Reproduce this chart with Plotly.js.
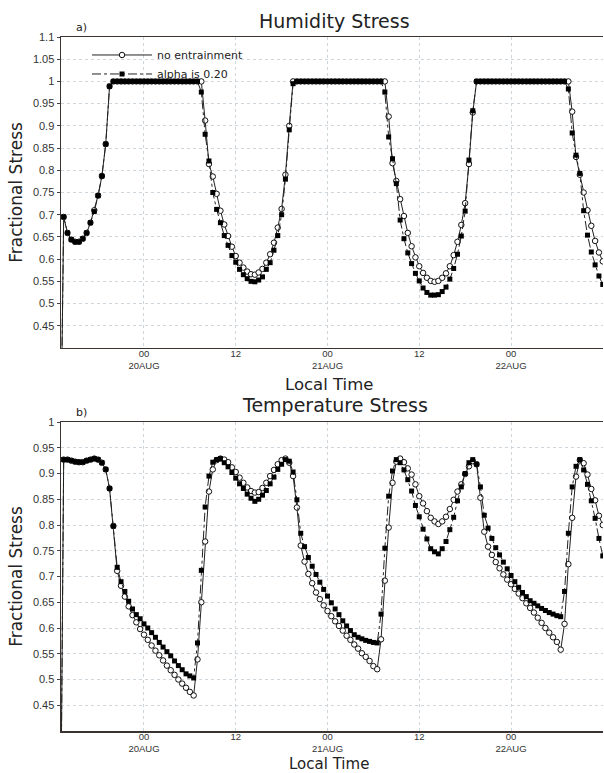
<!DOCTYPE html>
<html>
<head>
<meta charset="utf-8">
<script src="https://cdn.plot.ly/plotly-3.0.1.min.js"></script>
<style>
html,body{margin:0;padding:0;background:#fff;}
#chart{width:604px;height:773px;}
</style>
</head>
<body>
<div id="chart"></div>
<script>
// Local time in hours after 00 20AUG (half-hourly samples)
const hours = [
 -11,-10.5,-10,-9.5,-9,-8.5,-8,-7.5,-7,-6.5,-6,-5.5,-5,-4.5,
 -4,-3.5,-3,-2.5,-2,-1.5,-1,-0.5,0,0.5,1,1.5,2,2.5,3,3.5,4,4.5,5,5.5,6,6.5,7,
 7.5,8,8.5,9,9.5,10,10.5,11,11.5,12,12.5,13,13.5,14,14.5,15,15.5,16,16.5,17,17.5,18,18.5,19,19.5,
 20,20.5,21,21.5,22,22.5,23,23.5,24,24.5,25,25.5,26,26.5,27,27.5,28,28.5,29,29.5,30,30.5,31,
 31.5,32,32.5,33,33.5,34,34.5,35,35.5,36,36.5,37,37.5,38,38.5,39,39.5,40,40.5,41,41.5,42,42.5,43,
 43.5,44,44.5,45,45.5,46,46.5,47,47.5,48,48.5,49,49.5,50,50.5,51,51.5,52,52.5,53,53.5,54,54.5,55,
 55.5,56,56.5,57,57.5,58,58.5,59,59.5,60
];

// a) Humidity stress
const humidityNoEntrain = [
 0,0.695,0.659,0.644,0.639,0.639,0.646,0.659,0.682,0.710,0.743,0.787,0.859,0.989,
 1,1,1,1,1,1,1,1,1,1,1,1,1,1,1,1,1,1,1,1,1,1,1,
 1,0.912,0.814,0.786,0.747,0.709,0.678,0.652,0.628,0.607,0.592,0.581,0.572,0.566,0.565,0.570,0.578,0.592,0.611,0.637,0.671,0.713,0.790,0.900,1,
 1,1,1,1,1,1,1,1,1,1,1,1,1,1,1,1,1,1,1,1,1,1,1,
 1,0.921,0.816,0.776,0.735,0.697,0.659,0.629,0.604,0.584,0.569,0.558,0.551,0.549,0.551,0.558,0.568,0.584,0.609,0.639,0.677,0.726,0.814,0.930,
 1,1,1,1,1,1,1,1,1,1,1,1,1,1,1,1,1,1,1,1,1,1,1,1,
 1,0.932,0.830,0.790,0.750,0.710,0.675,0.641,0.615,0.595
];
const humidityAlpha = [
 0,0.695,0.659,0.644,0.639,0.639,0.646,0.659,0.682,0.707,0.743,0.787,0.859,0.989,
 1,1,1,1,1,1,1,1,1,1,1,1,1,1,1,1,1,1,1,1,1,1,1,
 0.976,0.881,0.821,0.750,0.712,0.682,0.653,0.631,0.608,0.593,0.577,0.565,0.556,0.550,0.549,0.553,0.560,0.577,0.592,0.620,0.653,0.700,0.780,0.891,0.995,
 1,1,1,1,1,1,1,1,1,1,1,1,1,1,1,1,1,1,1,1,1,1,1,
 0.976,0.875,0.826,0.770,0.688,0.646,0.614,0.590,0.568,0.551,0.535,0.525,0.519,0.519,0.520,0.527,0.537,0.555,0.579,0.611,0.652,0.708,0.823,0.934,
 1,1,1,1,1,1,1,1,1,1,1,1,1,1,1,1,1,1,1,1,1,1,1,1,
 0.983,0.884,0.834,0.793,0.709,0.654,0.616,0.587,0.562,0.543
];

// b) Temperature stress
const tempNoEntrain = [
 0,0.927,0.927,0.925,0.923,0.922,0.922,0.925,0.927,0.929,0.927,0.921,0.908,0.871,0.798,
 0.711,0.682,0.661,0.642,0.625,0.611,0.598,0.587,0.577,0.566,0.556,0.547,0.537,0.527,0.518,0.509,0.500,0.492,0.484,0.476,0.469,
 0.539,0.650,0.768,0.865,0.908,0.926,0.929,0.927,0.922,0.912,0.903,0.892,0.882,0.873,0.866,0.863,0.864,0.872,0.882,0.895,0.907,0.918,0.926,0.929,0.921,0.895,0.834,
 0.760,0.729,0.705,0.687,0.669,0.656,0.644,0.633,0.623,0.613,0.604,0.595,0.585,0.577,0.568,0.560,0.551,0.544,0.536,0.526,0.520,
 0.578,0.692,0.795,0.882,0.923,0.929,0.922,0.910,0.898,0.879,0.856,0.842,0.827,0.814,0.807,0.802,0.807,0.816,0.831,0.849,0.865,0.879,0.899,0.914,0.924,0.918,0.853,
 0.787,0.758,0.742,0.728,0.716,0.704,0.694,0.685,0.676,0.667,0.658,0.648,0.639,0.630,0.620,0.610,0.600,0.591,0.582,0.573,0.558,
 0.608,0.724,0.814,0.894,0.926,0.920,0.898,0.870,0.848,0.818,0.800
];
const tempAlpha = [
 0,0.927,0.927,0.925,0.923,0.922,0.922,0.925,0.927,0.929,0.927,0.921,0.908,0.871,0.798,
 0.718,0.690,0.671,0.652,0.637,0.626,0.618,0.608,0.600,0.591,0.582,0.572,0.563,0.554,0.546,0.536,0.527,0.519,0.511,0.507,0.503,
 0.571,0.712,0.835,0.895,0.922,0.927,0.929,0.921,0.913,0.902,0.891,0.880,0.871,0.860,0.852,0.846,0.850,0.858,0.867,0.880,0.893,0.908,0.918,0.927,0.924,0.903,0.849,
 0.784,0.758,0.737,0.720,0.704,0.689,0.675,0.662,0.649,0.637,0.626,0.614,0.604,0.595,0.587,0.582,0.579,0.576,0.574,0.572,0.571,
 0.627,0.755,0.856,0.905,0.927,0.921,0.907,0.888,0.866,0.838,0.816,0.792,0.773,0.754,0.748,0.744,0.754,0.768,0.791,0.815,0.847,0.874,0.900,0.921,0.927,0.918,0.874,
 0.819,0.794,0.774,0.756,0.742,0.728,0.715,0.702,0.690,0.679,0.669,0.661,0.653,0.648,0.643,0.638,0.634,0.630,0.627,0.624,0.622,
 0.671,0.784,0.874,0.914,0.927,0.907,0.879,0.847,0.813,0.774,0.740
];

const seriesNames = ['no entrainment', 'alpha is 0.20'];
const xTickVals = [0, 12, 24, 36, 48, 60];
const xTickText = ['00<br>20AUG', '12', '00<br>21AUG', '12', '00<br>22AUG', '12'];
const humTickVals = [0.45,0.5,0.55,0.6,0.65,0.7,0.75,0.8,0.85,0.9,0.95,1,1.05,1.1];
const humTickText = ['0.45','0.5','0.55','0.6','0.65','0.7','0.75','0.8','0.85','0.9','0.95','1','1.05','1.1'];
const tmpTickVals = [0.45,0.5,0.55,0.6,0.65,0.7,0.75,0.8,0.85,0.9,0.95,1];
const tmpTickText = ['0.45','0.5','0.55','0.6','0.65','0.7','0.75','0.8','0.85','0.9','0.95','1'];

const openCircle = {symbol:'circle', size:5.5, color:'#ffffff', line:{color:'#111', width:1}};
const fillSquare = {symbol:'square', size:5, color:'#000', line:{color:'#000', width:0}};

const traces = [
  {x:hours, y:humidityNoEntrain, xaxis:'x', yaxis:'y', name:seriesNames[0], mode:'lines+markers',
   line:{color:'#222', width:1}, marker:openCircle, legendgroup:'a'},
  {x:hours, y:humidityAlpha, xaxis:'x', yaxis:'y', name:seriesNames[1], mode:'lines+markers',
   line:{color:'#222', width:1, dash:'dashdot'}, marker:fillSquare, legendgroup:'b'},
  {x:hours, y:tempNoEntrain, xaxis:'x2', yaxis:'y2', name:seriesNames[0], mode:'lines+markers',
   line:{color:'#222', width:1}, marker:openCircle, showlegend:false},
  {x:hours, y:tempAlpha, xaxis:'x2', yaxis:'y2', name:seriesNames[1], mode:'lines+markers',
   line:{color:'#222', width:1, dash:'dashdot'}, marker:fillSquare, showlegend:false}
];

const gridColor = '#cfd6db';
const tickFont = {family:'Liberation Sans, Arial, sans-serif', size:11, color:'#333'};
const xTickFont = {family:'Liberation Sans, Arial, sans-serif', size:9.5, color:'#333'};
const titleFont = {family:'DejaVu Sans, sans-serif', size:16.5, color:'#222'};
const bottomTitleFont = {family:'DejaVu Sans, sans-serif', size:15, color:'#222'};

function xAxis(anchor){
  return {anchor:anchor, domain:[0,1], range:[-10.85, 60.03], tickmode:'array', tickvals:xTickVals, ticktext:xTickText,
    showgrid:true, gridcolor:gridColor, griddash:'dot', gridwidth:1, zeroline:false,
    showline:true, mirror:true, linecolor:'#3a3330', linewidth:1.5, ticks:'', tickfont:xTickFont, ticklabelstandoff:-4,
    title:{text:''}};
}
function yAxis(anchor, domain, range, vals, text){
  return {anchor:anchor, domain:domain, range:range, tickmode:'array', tickvals:vals, ticktext:text,
    showgrid:true, gridcolor:gridColor, griddash:'dot', gridwidth:1, zeroline:false,
    showline:true, mirror:false, linecolor:'#3a3330', linewidth:1.5, ticks:'outside', ticklen:3, tickcolor:'#444',
    tickfont:tickFont, title:{text:'Fractional Stress', font:{family:'DejaVu Sans, sans-serif', size:17, color:'#222'}, standoff:6}};
}

const layout = {
  width:604, height:773,
  margin:{l:61, r:1, t:37, b:42},
  paper_bgcolor:'#fff', plot_bgcolor:'#fff',
  showlegend:true,
  legend:{x:0.048, y:0.995, xanchor:'left', yanchor:'top', bgcolor:'rgba(255,255,255,0)', itemwidth:60,
    font:{family:'DejaVu Sans, sans-serif', size:11, color:'#222'}, tracegroupgap:0, itemsizing:'trace'},
  xaxis:xAxis('y'),
  yaxis:yAxis('x', [0.5519, 1], [0.4, 1.1], humTickVals, humTickText),
  xaxis2:xAxis('y2'),
  yaxis2:yAxis('x2', [0, 0.4452], [0.4, 1.0], tmpTickVals, tmpTickText),
  annotations:[
    {text:'Humidity Stress', xref:'paper', yref:'paper', x:0.505, y:1.0231, xanchor:'center', yanchor:'middle', showarrow:false,
     font:{family:'DejaVu Sans, sans-serif', size:19, color:'#222'}},
    {text:'Temperature Stress', xref:'paper', yref:'paper', x:0.505, y:0.4697, xanchor:'center', yanchor:'middle', showarrow:false,
     font:{family:'DejaVu Sans, sans-serif', size:19, color:'#222'}},
    {text:'Local Time', xref:'paper', yref:'paper', x:0.495, y:0.5, xanchor:'center', yanchor:'middle', showarrow:false,
     font:titleFont},
    {text:'Local Time', xref:'paper', yref:'paper', x:0.495, y:-0.0476, xanchor:'center', yanchor:'middle', showarrow:false,
     font:bottomTitleFont, borderpad:0},
    {text:'a)', xref:'paper', yref:'paper', x:0.0387, y:1.013, xanchor:'center', yanchor:'middle', showarrow:false,
     font:{family:'DejaVu Sans, sans-serif', size:11, color:'#222'}},
    {text:'b)', xref:'paper', yref:'paper', x:0.0387, y:0.4589, xanchor:'center', yanchor:'middle', showarrow:false,
     font:{family:'DejaVu Sans, sans-serif', size:11, color:'#222'}}
  ]
};

Plotly.newPlot('chart', traces, layout, {displayModeBar:false, staticPlot:true});
</script>
</body>
</html>
